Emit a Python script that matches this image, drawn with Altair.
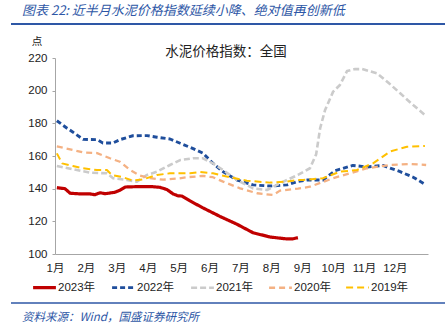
import altair as alt
import pandas as pd

# month position (0 = start of Jan) and index value
m2023 = [0.06, 0.32, 0.49, 0.81, 1.13, 1.29, 1.46, 1.62, 1.94, 2.10, 2.27, 2.75, 3.17, 3.40, 3.62,
         3.82, 3.98, 4.11, 4.37, 4.79, 5.34, 5.89, 6.41, 6.96, 7.51, 7.70, 7.86]
v2023 = [140.6, 140.0, 137.2, 136.8, 136.8, 136.3, 137.5, 136.9, 137.8, 139.0, 141.0, 141.3, 141.2, 140.8, 139.5,
         136.8, 135.6, 135.5, 132.5, 128.2, 123.0, 118.2, 113.0, 110.4, 109.2, 109.3, 110.0]

m2022 = [0.06, 0.39, 0.55, 0.91, 1.36, 1.55, 1.88, 2.10, 2.52, 2.98, 3.30, 3.72, 4.05, 4.47, 4.79,
         5.11, 5.44, 5.89, 6.41, 6.96, 7.51, 7.86, 8.16, 8.67, 9.06, 9.64, 10.10, 10.61, 11.17, 11.59, 12.01]
v2022 = [181.6, 177.0, 175.0, 170.2, 170.0, 168.0, 168.0, 170.0, 172.4, 172.5, 171.5, 170.4, 167.8, 164.5, 161.7,
         155.5, 150.4, 145.3, 142.3, 141.6, 142.3, 144.5, 145.3, 145.3, 151.0, 154.2, 153.3, 154.2, 150.4, 147.0, 142.3]

m2021 = [0.06, 0.71, 1.13, 1.68, 1.88, 2.33, 2.65, 2.98, 3.30, 3.72, 4.05, 4.47, 4.79, 5.11, 5.44,
         5.89, 6.41, 6.86, 7.28, 7.86, 8.25, 8.45, 8.58, 8.74, 9.00, 9.22, 9.45, 9.71, 9.94, 10.42,
         10.78, 11.17, 11.59, 12.01]
v2021 = [153.9, 151.4, 149.8, 149.4, 146.4, 145.3, 144.3, 148.4, 150.4, 154.5, 157.5, 158.6, 158.6, 155.5, 151.4,
         145.3, 140.2, 139.2, 143.3, 148.4, 152.5, 161.0, 177.0, 188.2, 199.4, 203.5, 212.0, 213.2, 213.2, 210.6,
         205.0, 198.4, 191.2, 184.5]

m2020 = [0.06, 0.58, 0.91, 1.36, 1.78, 2.10, 2.43, 2.75, 3.07, 3.50, 3.98, 4.27, 4.79, 5.11, 5.44,
         5.99, 6.54, 7.06, 7.28, 7.86, 8.25, 9.00, 9.55, 10.10, 10.84, 11.49, 12.01]
v2020 = [165.9, 163.7, 162.2, 161.8, 158.6, 156.5, 151.4, 148.0, 146.4, 145.5, 146.2, 147.0, 147.8, 147.0, 144.3,
         140.2, 137.2, 136.1, 138.8, 140.0, 141.2, 146.4, 149.4, 152.5, 154.5, 155.1, 154.5]

m2019 = [0.06, 0.23, 0.58, 0.91, 1.36, 1.68, 1.84, 2.20, 2.52, 2.85, 3.30, 3.72, 4.37, 4.69, 5.11,
         5.66, 6.21, 6.96, 7.51, 7.86, 8.03, 8.67, 9.22, 9.77, 10.29, 10.84, 11.39, 11.97]
v2019 = [161.6, 155.5, 153.9, 152.5, 151.4, 151.4, 148.4, 147.0, 144.9, 145.7, 148.4, 149.4, 149.4, 150.2, 149.4,
         147.0, 144.9, 143.7, 144.3, 145.3, 145.3, 146.4, 150.4, 151.4, 155.5, 162.7, 165.7, 166.1]

years = ["2023年", "2022年", "2021年", "2020年", "2019年"]
colors = ["#C00000", "#1F4E9C", "#CBCBCB", "#F4B183", "#FFC000"]
dashes = [[1, 0], [5, 3], [6, 3], [6, 4], [7, 4]]
widths = [3.2, 2, 2, 2, 2.5]
month_labels = ["1月", "2月", "3月", "4月", "5月", "6月", "7月", "8月", "9月", "10月", "11月", "12月"]

rows = []
for yr, ms, vs in zip(years, [m2023, m2022, m2021, m2020, m2019], [v2023, v2022, v2021, v2020, v2019]):
    for m, v in zip(ms, vs):
        rows.append({"year": yr, "m": m, "v": v})
df = pd.DataFrame(rows)

FONT = "Liberation Sans, Noto Sans CJK SC"
CJK = "Noto Sans CJK SC"
BLUE = "#2E57A6"

lines = alt.Chart(df).mark_line(strokeJoin="round").encode(
    x=alt.X("m:Q", scale=alt.Scale(domain=[0, 12.07], nice=False, zero=False),
            axis=alt.Axis(values=list(range(12)), labelExpr="(datum.value + 1) + '月'",
                          title=None, ticks=False, grid=False, domainColor="#A6A6A6",
                          labelFont=FONT, labelFontSize=11.5, labelColor="#222",
                          labelPadding=8, labelFlush=False)),
    y=alt.Y("v:Q", scale=alt.Scale(domain=[100, 220], nice=False, zero=False),
            axis=alt.Axis(values=list(range(100, 221, 20)), title=None, grid=False,
                          tickSize=3, tickColor="#A6A6A6", domainColor="#A6A6A6",
                          labelFont=FONT, labelFontSize=11.5, labelColor="#222", labelPadding=5)),
    color=alt.Color("year:N", scale=alt.Scale(domain=years, range=colors), title=None),
    strokeDash=alt.StrokeDash("year:N", scale=alt.Scale(domain=years, range=dashes), title=None),
    strokeWidth=alt.StrokeWidth("year:N", scale=alt.Scale(domain=years, range=widths), title=None),
    order=alt.Order("m:Q"),
)

title_df = pd.DataFrame({"t": ["水泥价格指数：全国"]})
title = alt.Chart(title_df).mark_text(font=CJK, fontSize=13.5, color="#222", align="center",
                                      baseline="middle").encode(
    text="t:N", x=alt.value(171), y=alt.value(-6))

unit = alt.Chart(pd.DataFrame({"t": ["点"]})).mark_text(font=CJK, fontSize=10.5, color="#222",
                                                        align="center", baseline="middle").encode(
    text="t:N", x=alt.value(-18), y=alt.value(-16))

header = alt.Chart(pd.DataFrame({"t": ["图表 22:  近半月水泥价格指数延续小降、绝对值再创新低"]})).mark_text(
    font=CJK, fontSize=13, fontStyle="italic", color=BLUE, align="left", baseline="middle").encode(
    text="t:N", x=alt.value(-33), y=alt.value(-47))

footer = alt.Chart(pd.DataFrame({"t": ["资料来源：Wind，国盛证券研究所"]})).mark_text(
    font=CJK, fontSize=11.5, fontStyle="italic", color=BLUE, align="left", baseline="middle").encode(
    text="t:N", x=alt.value(-33), y=alt.value(260))

rule_df = pd.DataFrame({"k": [0]})
top_rule = alt.Chart(rule_df).mark_rule(color=BLUE, strokeWidth=2).encode(
    x=alt.value(-44), x2=alt.value(390), y=alt.value(-34))
bottom_rule = alt.Chart(rule_df).mark_rule(color=BLUE, strokeWidth=1.5).encode(
    x=alt.value(-44), x2=alt.value(390), y=alt.value(245))

chart = alt.layer(lines, title, unit, header, footer, top_rule, bottom_rule).properties(
    width=373, height=196, autosize="none",
    padding={"left": 55, "top": 58, "right": 20, "bottom": 75},
    background="white",
).configure_view(stroke=None).configure_legend(
    orient="none", legendX=-24, legendY=216, direction="horizontal", columns=5,
    symbolType="stroke", symbolSize=520, labelFont=FONT, labelFontSize=11.5, labelColor="#222",
    labelOffset=0, columnPadding=10,
)

chart.save("out.html", embed_options={"renderer": "svg", "actions": False})
